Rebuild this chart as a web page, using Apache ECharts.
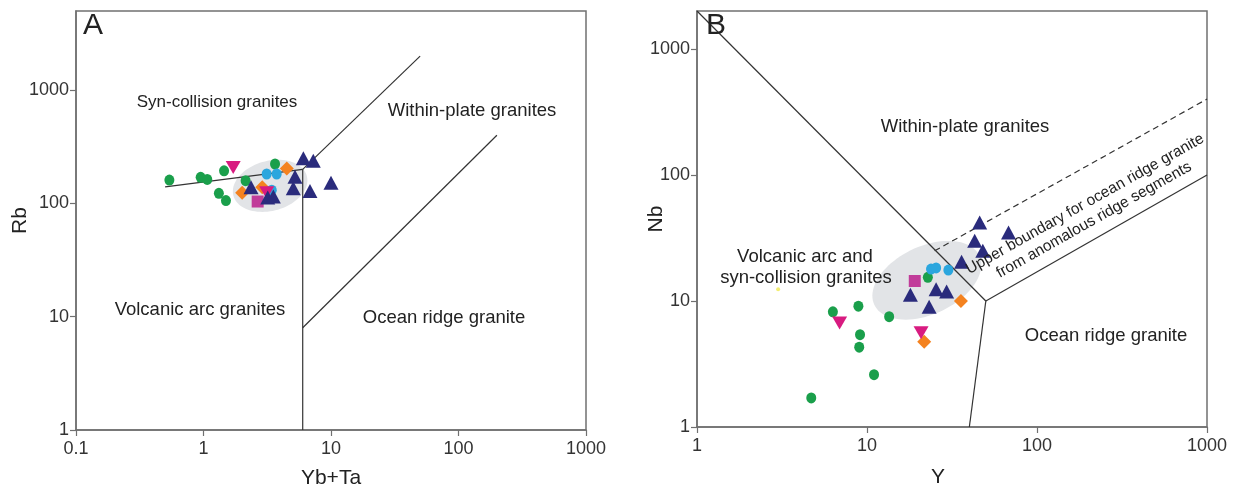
<!DOCTYPE html>
<html>
<head>
<meta charset="utf-8">
<script src="https://cdn.jsdelivr.net/npm/echarts@6/dist/echarts.min.js"></script>
<style>
  html, body { margin: 0; padding: 0; background: #ffffff; }
  #chart { width: 1235px; height: 487px; }
</style>
</head>
<body>
<div id="chart"></div>
<script>
// ---------- Panel A: Rb vs (Yb+Ta) ----------
const aGreen      = [[0.54,161],[0.95,170],[1.07,163],[1.45,194],[3.64,223],[2.14,159],[1.32,123],[1.50,106]];
const aNavy       = [[2.36,139],[6.07,250],[7.26,238],[5.22,172],[5.06,136],[6.84,129],[10.0,152],[3.19,113],[3.53,115]];
const aMagentaTri = [[1.71,208],[3.13,124]];
const aCyan       = [[3.13,182],[3.75,182],[3.43,131]];
const aOrange     = [[4.50,204],[2.01,124],[2.89,139]];
const aSquare     = [[2.66,104]];
const aFieldCentre = [3.33,143];

// field boundaries (Pearce et al., 1984)
const aBoundaries = [
  [[0.5,140],[6,200]],
  [[6,200],[50,2000]],
  [[6,1],[6,200]],
  [[6,8],[200,400]]
];
const aXTicks = [0.1,1,10,100,1000];
const aYTicks = [1,10,100,1000];

// ---------- Panel B: Nb vs Y ----------
const bGreen      = [[22.8,15.4],[8.9,9.1],[13.5,7.5],[6.3,8.2],[9.1,5.4],[9.0,4.3],[11,2.6],[4.7,1.7]];
const bNavy       = [[46,42],[68,35],[43,30],[48,25],[36,20.5],[18,11.2],[25.5,12.4],[29.4,11.9],[23.2,9.0]];
const bMagentaTri = [[6.9,6.7],[20.8,5.6]];
const bCyan       = [[23.8,17.9],[25.5,18.3],[30.1,17.6]];
const bOrange     = [[35.7,10],[21.7,4.75]];
const bSquare     = [[19.1,14.4]];
const bYellow     = [[3.0,12.4]];
const bFieldCentre = [22.5,14.6];

const bBoundaries = [
  [[1,2000],[50,10]],
  [[50,10],[40,1]],
  [[50,10],[1000,100]]
];
const bDashed = [[25,25],[1000,400]];
const bXTicks = [1,10,100,1000];
const bYTicks = [1,10,100,1000];

// ---------- styling ----------
const FONT = 'Liberation Sans, Arial, Helvetica, sans-serif';
const BOX = '#707070';
const LINE = '#333333';
const C = {
  green: '#1a9f4b', navy: '#2a2b7c', magenta: '#d81b80',
  cyan: '#2ba6de', orange: '#f4821f', square: '#c13c9a', yellow: '#f3ee72'
};

function fmt(v) { return String(+Number(v).toPrecision(6)); }

function logAxis(gridIndex, min, max, ticks, name, labelMargin, nameGap, namePad) {
  return {
    type: 'log', logBase: 10, gridIndex, min, max,
    name, nameLocation: 'middle', nameGap, nameMoveOverlap: false,
    nameTextStyle: { fontFamily: FONT, fontSize: 21, color: '#222', padding: namePad || 0 },
    axisLine: { show: true, lineStyle: { color: BOX, width: 1.5 } },
    axisTick: { show: true, inside: false, length: 6, customValues: ticks,
                lineStyle: { color: BOX, width: 1.2 } },
    axisLabel: { customValues: ticks, formatter: fmt, margin: labelMargin,
                 fontFamily: FONT, fontSize: 18, color: '#333' },
    minorTick: { show: false },
    splitLine: { show: false }
  };
}

function pts(xi, data, symbol, size, color, rotate) {
  return {
    type: 'scatter', xAxisIndex: xi, yAxisIndex: xi, data,
    symbol, symbolSize: size, symbolRotate: rotate || 0,
    itemStyle: { color, opacity: 1 }, z: 5, silent: true
  };
}

function boundary(xi, seg, dashed) {
  return {
    type: 'line', xAxisIndex: xi, yAxisIndex: xi, data: seg,
    symbol: 'none', silent: true, z: 3,
    lineStyle: { color: LINE, width: 1.2, type: dashed ? [6, 4] : 'solid' }
  };
}

function field(xi, centre, rx, ry, rotDeg) {
  return {
    type: 'custom', xAxisIndex: xi, yAxisIndex: xi, data: [centre], silent: true, z: 1,
    renderItem: function (params, api) {
      const c = api.coord([api.value(0), api.value(1)]);
      const r = rotDeg * Math.PI / 180;
      const p = [];
      for (let i = 0; i < 90; i++) {
        const t = i / 90 * 2 * Math.PI;
        const x = rx * Math.cos(t), y = ry * Math.sin(t);
        p.push([c[0] + x * Math.cos(r) - y * Math.sin(r), c[1] + x * Math.sin(r) + y * Math.cos(r)]);
      }
      return { type: 'polygon', shape: { points: p }, style: { fill: '#e2e4e7' } };
    }
  };
}

function label(text, x, y, size, extra) {
  return Object.assign({
    type: 'text', x, y, silent: true, z: 10,
    style: { text, fontFamily: FONT, fontSize: size, fill: '#222',
             textAlign: 'center', textVerticalAlign: 'middle' }
  }, extra || {});
}

const series = [];
// panel A
series.push(field(0, aFieldCentre, 38, 25, -15));
aBoundaries.forEach(s => series.push(boundary(0, s)));
series.push(pts(0, aGreen, 'circle', [10, 11], C.green));
series.push(pts(0, aOrange, 'diamond', [14, 14], C.orange));
series.push(pts(0, aCyan, 'circle', [10, 11], C.cyan));
series.push(pts(0, aMagentaTri, 'triangle', [15, 13], C.magenta, 180));
series.push(pts(0, aSquare, 'rect', [12, 12], C.square));
series.push(pts(0, aNavy, 'triangle', [15, 14], C.navy));
// panel B
series.push(field(1, bFieldCentre, 58, 34, -25));
bBoundaries.forEach(s => series.push(boundary(1, s)));
series.push(boundary(1, bDashed, true));
series.push(pts(1, bYellow, 'circle', 4, C.yellow));
series.push(pts(1, bGreen, 'circle', [10, 11], C.green));
series.push(pts(1, bOrange, 'diamond', [14, 14], C.orange));
series.push(pts(1, bCyan, 'circle', [10, 11], C.cyan));
series.push(pts(1, bMagentaTri, 'triangle', [15, 13], C.magenta, 180));
series.push(pts(1, bSquare, 'rect', [12, 12], C.square));
series.push(pts(1, bNavy, 'triangle', [15, 14], C.navy));

const option = {
  backgroundColor: '#ffffff',
  animation: false,
  grid: [
    { left: 76, top: 11, width: 510, height: 419, outerBoundsMode: 'none', containLabel: false,
      show: true, borderColor: BOX, borderWidth: 1.5, backgroundColor: 'transparent' },
    { left: 697, top: 11, width: 510, height: 416, outerBoundsMode: 'none', containLabel: false,
      show: true, borderColor: BOX, borderWidth: 1.5, backgroundColor: 'transparent' }
  ],
  xAxis: [
    logAxis(0, 0.1, 1000, aXTicks, 'Yb+Ta', 10, 38),
    logAxis(1, 1, 1000, bXTicks, 'Y', 10, 40, [0, 28, 0, 0])
  ],
  yAxis: [
    logAxis(0, 1, 5000, aYTicks, 'Rb', 7, 45),
    logAxis(1, 1, 2000, bYTicks, 'Nb', 7, 30)
  ],
  series,
  graphic: [
    label('A', 93, 26, 30),
    label('Syn-collision granites', 217, 102, 17),
    label('Within-plate granites', 472, 111, 18.5),
    label('Volcanic arc granites', 200, 310, 18.5),
    label('Ocean ridge granite', 444, 318, 18.5),
    label('B', 716, 26, 30),
    label('Within-plate granites', 965, 127, 18.5),
    label('Volcanic arc and', 805, 257, 18.5),
    label('syn-collision granites', 806, 278, 18.5),
    label('Ocean ridge granite', 1106, 336, 18.5),
    label('Upper boundary for ocean ridge granite', 1085, 204, 15.5, { rotation: 29.4 * Math.PI / 180 }),
    label('from anomalous ridge segments', 1094, 220, 15.5, { rotation: 29.4 * Math.PI / 180 })
  ]
};

const chart = echarts.init(document.getElementById('chart'), null, { renderer: 'canvas' });
chart.setOption(option);
</script>
</body>
</html>
